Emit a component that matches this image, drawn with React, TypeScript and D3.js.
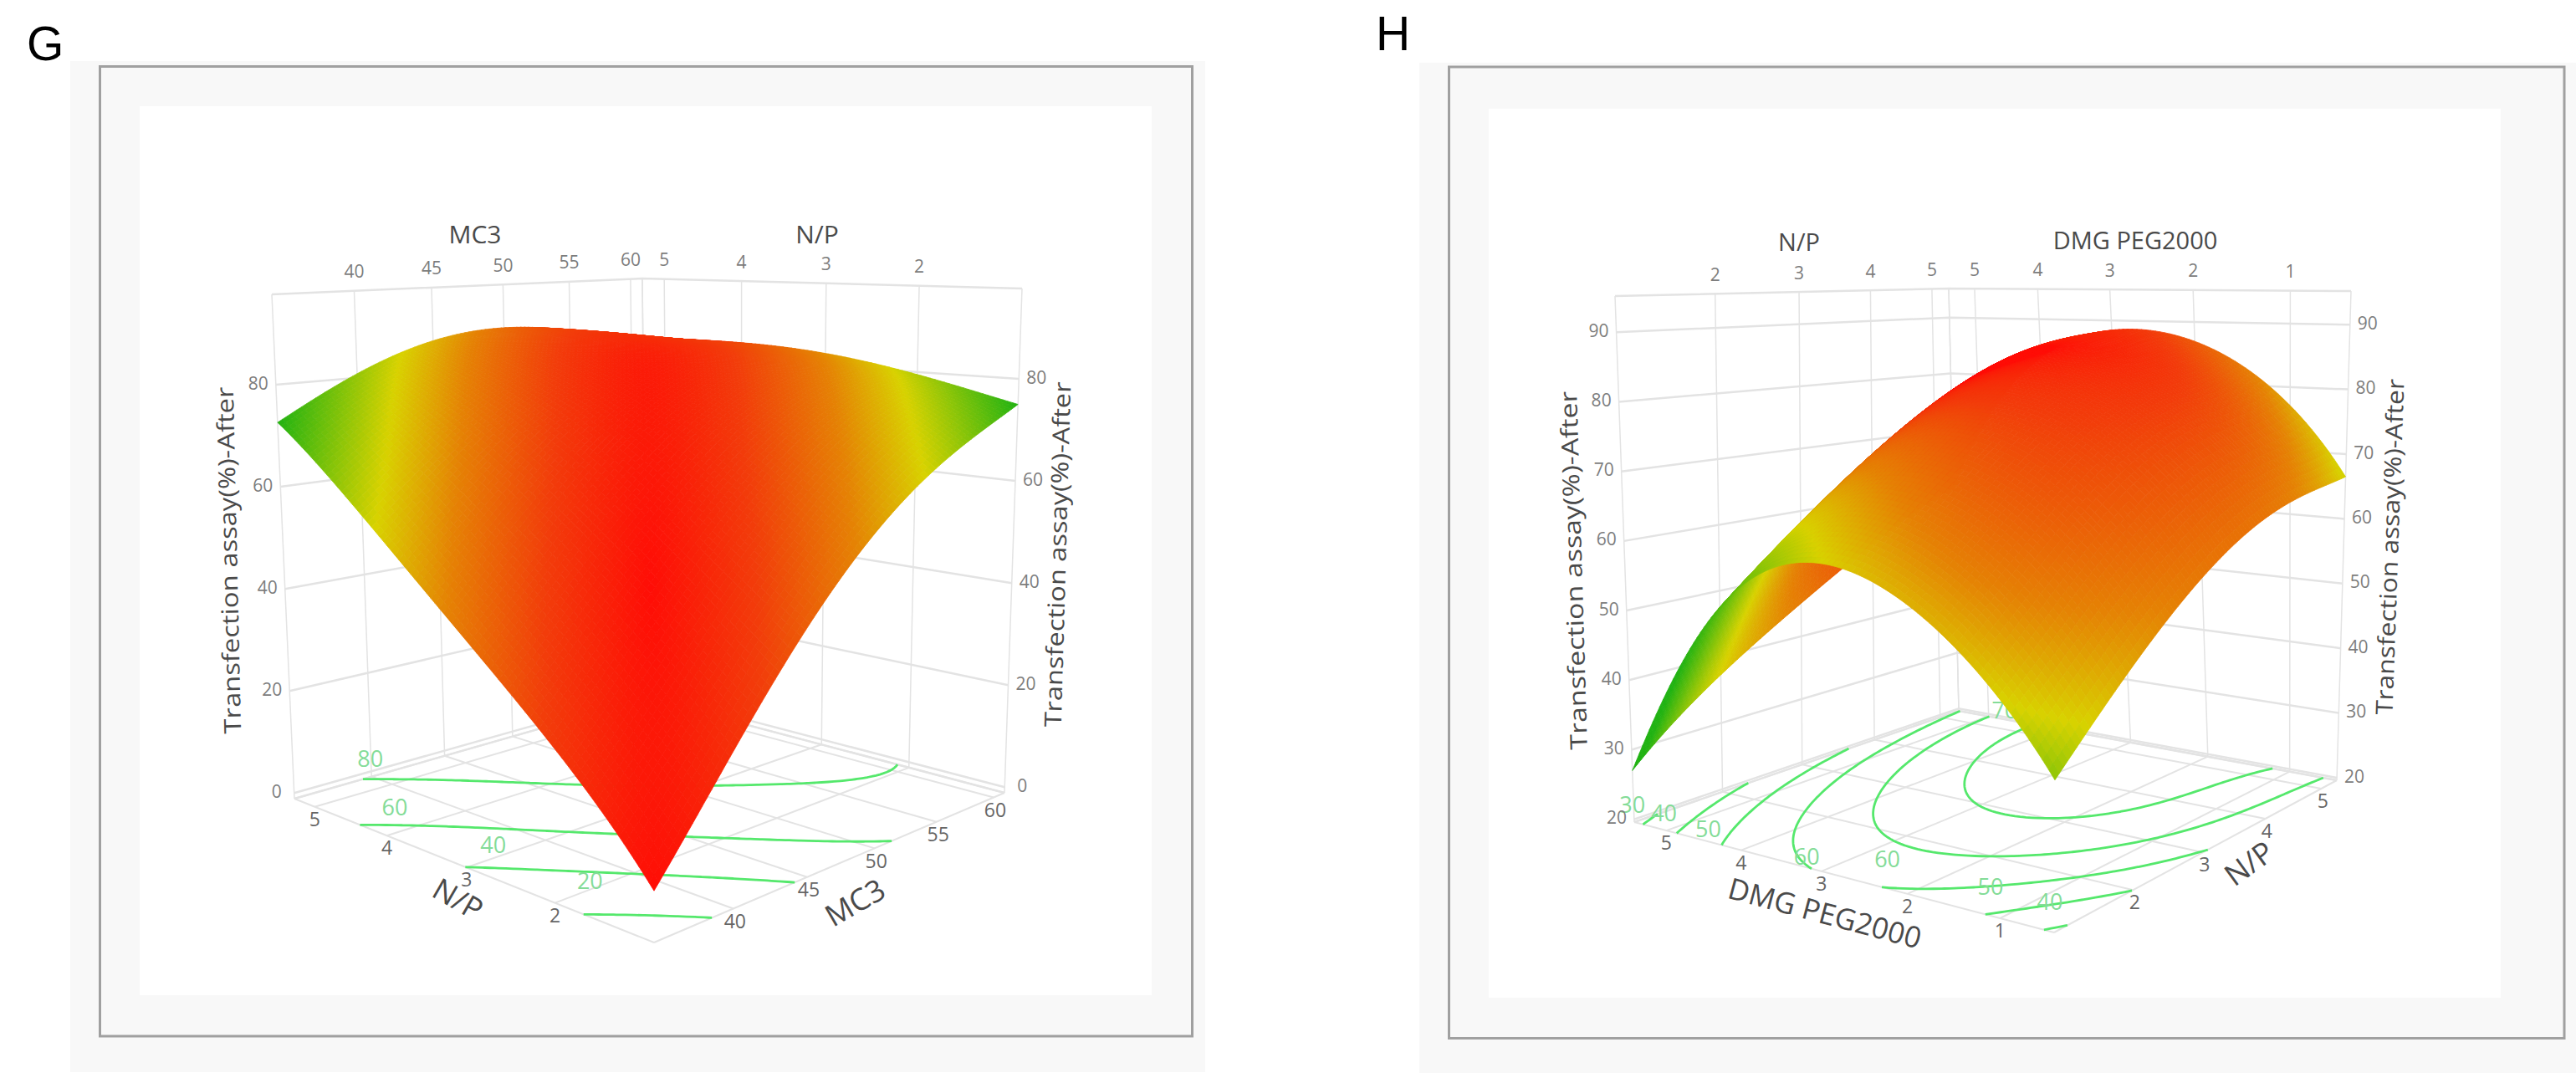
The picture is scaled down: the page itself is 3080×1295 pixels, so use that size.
import * as d3 from 'd3';
import React, { useEffect, useRef } from 'react';

// surface heights, rows run along the first floor axis, columns along the second
const surfaceG = [
  [7, 31, 52, 66, 75],
  [26, 47, 66, 77.5, 79.8],
  [42, 62, 77, 83, 83],
  [58, 74, 84, 86, 84],
  [72.6, 83, 88, 87, 84],
];
const surfaceH = [
  [38, 51, 60.5, 65, 66.5],
  [56.25, 68.75, 78, 82, 85],
  [60.5, 72.5, 81.5, 86.5, 88.5],
  [50.75, 62.25, 72, 79, 81.5],
  [27, 38, 46.5, 54, 59.5],
];
// squared colour score of the same cells, 0 is red and 1 is green
const colourG = [
  [0, 0.0625, 0.25, 0.5625, 1],
  [0.0625, 0, 0.0625, 0.25, 0.5625],
  [0.25, 0.0625, 0.005, 0.0625, 0.25],
  [0.5625, 0.25, 0.0625, 0.03, 0.0625],
  [1, 0.5625, 0.25, 0.0625, 0.09],
];
const colourH = [
  [0.68, 0.3, 0.2, 0.25, 0.52],
  [0.38, 0.13, 0.06, 0.05, 0.18],
  [0.56, 0.2, 0.03, 0, 0.03],
  [0.9, 0.35, 0.04, 0, 0.01],
  [1.1, 0.45, 0.2, 0.04, 0.01],
];

const npTicksG = [5, 4, 3, 2];
const mc3Ticks = [40, 45, 50, 55, 60];
const dmgTicks = [5, 4, 3, 2, 1];
const npTicksH = [2, 3, 4, 5];
const zTicksG = [0, 20, 40, 60, 80];
const zTicksH = [20, 30, 40, 50, 60, 70, 80, 90];
const levelsG = [20, 40, 60, 80];
const levelsH = [30, 40, 50, 60, 70, 80];

const zTitle = 'Transfection assay(%)-After';
const MESH = 90;
const NODES = [0, 0.25, 0.5, 0.75, 1];

const colourScale = d3.scaleLinear<string>()
  .domain([0, 0.25, 0.5, 0.7, 1])
  .range(['#ff0d06', '#f23c0a', '#e58204', '#d8d200', '#20b212'])
  .clamp(true);

const weights = (t: number) => NODES.map((n, i) =>
  NODES.reduce((w, m, j) => (i === j ? w : w * (t - m) / (n - m)), 1));

const tableAt = (table: number[][], a: number, b: number) => {
  const wa = weights(a);
  const wb = weights(b);
  let z = 0;
  wa.forEach((u, i) => wb.forEach((v, j) => { z += u * v * table[i][j]; }));
  return z;
};

// unit square to quad: (0,0) front, (1,0) left, (1,1) back, (0,1) right
const homography = (q: number[][]) => {
  const [p0, p1, p2, p3] = q;
  const dx1 = p1[0] - p2[0], dx2 = p3[0] - p2[0], sx = p0[0] - p1[0] + p2[0] - p3[0];
  const dy1 = p1[1] - p2[1], dy2 = p3[1] - p2[1], sy = p0[1] - p1[1] + p2[1] - p3[1];
  const det = dx1 * dy2 - dx2 * dy1;
  const g = (sx * dy2 - dx2 * sy) / det;
  const h = (dx1 * sy - sx * dy1) / det;
  return (u: number, v: number) => {
    const w = g * u + h * v + 1;
    return [
      ((p1[0] - p0[0] + g * p1[0]) * u + (p3[0] - p0[0] + h * p3[0]) * v + p0[0]) / w,
      ((p1[1] - p0[1] + g * p1[1]) * u + (p3[1] - p0[1] + h * p3[1]) * v + p0[1]) / w,
    ];
  };
};

const panelG = {
  letter: 'G', letterX: 32, letterY: 72,
  outer: [84, 73, 1441, 1282], border: [119.5, 79.5, 1425.5, 1239], inner: [167, 127, 1377, 1190],
  floor: [[782, 1127], [352, 955], [773, 835], [1201, 948]],
  top: [[782, 373], [325, 352], [768, 333], [1222, 345]],
  zDomain: [-1.1, 97.7], aDomain: [1, 5.3], bDomain: [35.1, 61],
  aTicks: npTicksG, bTicks: mc3Ticks, zTicks: zTicksG, levels: levelsG,
  surface: surfaceG, colour: colourG,
  titles: [
    { text: 'MC3', x: 568, y: 283, r: 0, size: 30 }, { text: 'N/P', x: 977, y: 283, r: 0, size: 30 },
    { text: 'N/P', x: 546, y: 1078, r: 30, size: 36 }, { text: 'MC3', x: 1024, y: 1082, r: -30, size: 36 },
  ],
  sideTitles: [
    { x: 276, y: 670, r: -91.3, len: 415 }, { x: 1267, y: 663, r: -88.4, len: 413 },
  ],
  labels: [
    { text: '80', a: 1, b: 0.15, dx: 17, dy: -24 }, { text: '60', a: 0.73, b: 0, dx: 22, dy: -26 },
    { text: '40', a: 0.44, b: 0, dx: 21, dy: -29 }, { text: '20', a: 0.19, b: 0, dx: 21, dy: -32 },
  ],
};

const panelH = {
  letter: 'H', letterX: 1645, letterY: 60,
  outer: [1697, 75, 3080, 1283], border: [1732.5, 80, 3066, 1241.5], inner: [1780, 130, 2990, 1193],
  floor: [[2456, 1115], [1954, 983], [2342, 850], [2794, 933]],
  top: [[2460, 366], [1931, 354], [2330, 345], [2811, 348]],
  zDomain: [19.6, 95.2], aDomain: [0.45, 5.45], bDomain: [1, 5.3],
  aTicks: dmgTicks, bTicks: npTicksH, zTicks: zTicksH, levels: levelsH,
  surface: surfaceH, colour: colourH,
  titles: [
    { text: 'N/P', x: 2151, y: 292, r: 0, size: 29 }, { text: 'DMG PEG2000', x: 2553, y: 290, r: 0, size: 29 },
    { text: 'DMG PEG2000', x: 2181, y: 1095, r: 15, size: 35 }, { text: 'N/P', x: 2691, y: 1035, r: -36, size: 36 },
  ],
  sideTitles: [
    { x: 1884, y: 682, r: -91.7, len: 429 }, { x: 2860, y: 654, r: -88, len: 402 },
  ],
  labels: [
    { text: '30', a: 0.97, b: 0, dx: -15, dy: -22 }, { text: '40', a: 0.875, b: 0, dx: -18, dy: -22 },
    { text: '50', a: 0.75, b: 0, dx: -21, dy: -18 }, { text: '60', a: 0.495, b: 0, dx: -25, dy: -17 },
    { text: '60', a: 0.39, b: 0, dx: 18, dy: -28 }, { text: '50', a: 0.13, b: 0, dx: 0, dy: -32 },
    { text: '40', a: 0.005, b: 0, dx: -2, dy: -33 }, { text: '70', a: 0.88, b: 1, dx: 7, dy: -7 },
  ],
};

const drawPanel = (svg: any, p: typeof panelG) => {
  const g = svg.append('g');
  const rect = (r: number[], attrs: Record<string, any>) => {
    const el = g.append('rect').attr('x', r[0]).attr('y', r[1]).attr('width', r[2] - r[0]).attr('height', r[3] - r[1]);
    Object.entries(attrs).forEach(([k, v]) => el.attr(k, v));
  };
  rect(p.outer, { fill: '#f8f8f8' });
  rect(p.border, { fill: 'none', stroke: '#a0a0a0', 'stroke-width': 3 });
  rect(p.inner, { fill: '#ffffff' });

  g.append('text')
    .attr('x', p.letterX).attr('y', p.letterY)
    .attr('font-family', '"Liberation Sans", Arial, sans-serif')
    .attr('font-size', 57).attr('fill', '#000')
    .text(p.letter);

  const onFloor = homography(p.floor);
  const onTop = homography(p.top);
  const zScale = d3.scaleLinear().domain(p.zDomain).range([0, 1]);
  const aScale = d3.scaleLinear().domain(p.aDomain).range([0, 1]);
  const bScale = d3.scaleLinear().domain(p.bDomain).range([0, 1]);
  const project = (a: number, b: number, z: number) => {
    const f = onFloor(a, b);
    const t = onTop(a, b);
    const k = zScale(z);
    return [f[0] + (t[0] - f[0]) * k, f[1] + (t[1] - f[1]) * k];
  };
  const line = d3.line();
  const [zLo, zHi] = p.zDomain;

  const grid = g.append('g').attr('fill', 'none').attr('stroke', '#e3e3e3');
  const seg = (pts: number[][], w: number) => grid.append('path').attr('d', line(pts as any)).attr('stroke-width', w);

  // walls
  [...p.bTicks.map(t => bScale(t)), 0, 1].forEach(b => seg([project(1, b, zLo), project(1, b, zHi)], 1.5));
  [...p.aTicks.map(t => aScale(t)), 0, 1].forEach(a => seg([project(a, 1, zLo), project(a, 1, zHi)], 1.5));
  seg([project(1, 0, zLo), project(1, 1, zLo), project(0, 1, zLo)], 2.5);
  seg([project(1, 0, zHi), project(1, 1, zHi), project(0, 1, zHi)], 2.5);
  p.zTicks.forEach(z => seg([project(1, 0, z), project(1, 1, z), project(0, 1, z)], 2.5));

  // floor
  [...p.aTicks.map(t => aScale(t)), 0, 1].forEach(a => seg([project(a, 0, zLo), project(a, 1, zLo)], 2));
  [...p.bTicks.map(t => bScale(t)), 0, 1].forEach(b => seg([project(0, b, zLo), project(1, b, zLo)], 2));

  // contours on the floor, drawn from a fine sampling of the table
  const size = MESH + 1;
  const values = new Array(size * size);
  for (let j = 0; j < size; j++) {
    for (let i = 0; i < size; i++) values[j * size + i] = tableAt(p.surface, i / MESH, j / MESH);
  }
  const contours = d3.contours().size([size, size]).thresholds(p.levels)(values);
  const contourG = g.append('g').attr('fill', 'none').attr('stroke', '#55e86c').attr('stroke-width', 2.8);
  contours.forEach(c => {
    c.coordinates.forEach(poly => poly.forEach(ring => {
      let part: number[][] = [];
      const flush = () => {
        if (part.length > 1) contourG.append('path').attr('d', line(part as any));
        part = [];
      };
      ring.forEach(([x, y]) => {
        if (x <= 0 || y <= 0 || x >= size || y >= size) { flush(); return; }
        const a = Math.min(1, Math.max(0, (x - 0.5) / MESH));
        const b = Math.min(1, Math.max(0, (y - 0.5) / MESH));
        part.push(project(a, b, zLo));
      });
      flush();
    }));
  });

  const textAt = (text: string, x: number, y: number, size: number, fill: string, rotate = 0) =>
    g.append('text')
      .attr('transform', `translate(${x},${y}) rotate(${rotate})`)
      .attr('text-anchor', 'middle').attr('dominant-baseline', 'middle')
      .attr('font-family', '"Open Sans", sans-serif')
      .attr('font-size', size).attr('fill', fill)
      .text(text);

  p.labels.forEach(l => {
    const [x, y] = project(l.a, l.b, zLo);
    textAt(l.text, x + l.dx, y + l.dy, 27, '#84dc98');
  });

  // tick labels
  const tickFill = '#7d7d7d';
  p.aTicks.forEach(t => {
    const a = aScale(t);
    const [fx, fy] = project(a, 0, zLo);
    textAt(String(t), fx, fy + 17, 23, '#666');
    const [tx, ty] = project(a, 1, zHi);
    textAt(String(t), tx, ty - 21, 21, tickFill);
  });
  p.bTicks.forEach(t => {
    const b = bScale(t);
    const [fx, fy] = project(0, b, zLo);
    textAt(String(t), fx + 2, fy + 17, 23, '#666');
    const [tx, ty] = project(1, b, zHi);
    textAt(String(t), tx, ty - 21, 21, tickFill);
  });
  p.zTicks.forEach(z => {
    const [lx, ly] = project(1, 0, z);
    textAt(String(z), lx - 21, ly, 21, tickFill);
    const [rx, ry] = project(0, 1, z);
    textAt(String(z), rx + 21, ry, 21, tickFill);
  });

  p.titles.forEach(t => textAt(t.text, t.x, t.y, t.size, '#4a4a4a', t.r));
  p.sideTitles.forEach(t => textAt(zTitle, t.x, t.y, 28, '#4a4a4a', t.r)
    .attr('textLength', t.len).attr('lengthAdjust', 'spacingAndGlyphs'));

  // surface, painted from the far corner to the near one
  const surfaceGroup = g.append('g');
  for (let i = MESH - 1; i >= 0; i--) {
    for (let j = MESH - 1; j >= 0; j--) {
      const a0 = i / MESH, a1 = (i + 1) / MESH, b0 = j / MESH, b1 = (j + 1) / MESH;
      const corners = [[i, j], [i + 1, j], [i + 1, j + 1], [i, j + 1]]
        .map(([u, v]) => project(u / MESH, v / MESH, values[v * size + u]));
      const score = Math.sqrt(Math.max(0, tableAt(p.colour, (a0 + a1) / 2, (b0 + b1) / 2)));
      const fill = colourScale(score);
      surfaceGroup.append('path')
        .attr('d', `${line(corners as any)}Z`)
        .attr('fill', fill).attr('stroke', fill).attr('stroke-width', 0.8);
    }
  }
};

export default function App() {
  const svgRef = useRef<SVGSVGElement>(null);

  useEffect(() => {
    const svg = d3.select(svgRef.current);
    svg.selectAll('*').remove();
    drawPanel(svg, panelG);
    drawPanel(svg, panelH as any);
  }, []);

  return (
    <svg
      ref={svgRef}
      width={3080}
      height={1295}
      style={{ position: 'absolute', left: 0, top: 0, display: 'block', background: '#fff' }}
    />
  );
}
